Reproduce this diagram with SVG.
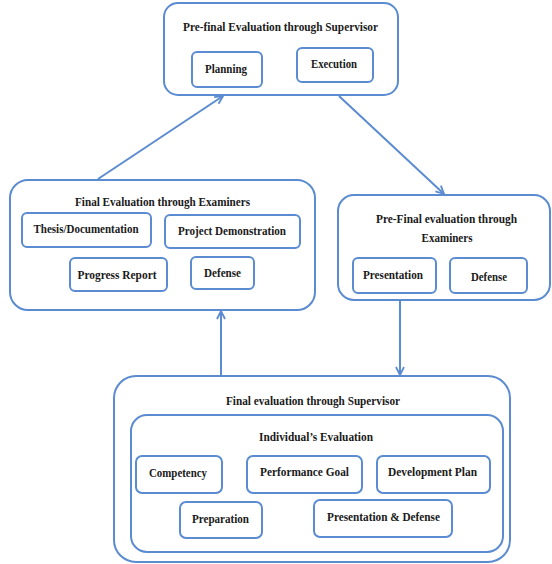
<svg xmlns="http://www.w3.org/2000/svg" width="552" height="564" viewBox="0 0 552 564">
<style>
.big{fill:#fff;stroke:#5b8bd0;stroke-width:2}
.sm{fill:#fff;stroke:#5b8bd0;stroke-width:2}
.t{font-family:"Liberation Serif","Times New Roman",serif;font-weight:bold;font-size:13.5px;fill:#1a1a1a;text-anchor:middle}
.c{stroke:#5b8bd0;stroke-width:2;fill:none}
</style>
<defs>
<marker id="ah" viewBox="0 0 10 10" refX="9" refY="5" markerWidth="10" markerHeight="10" markerUnits="userSpaceOnUse" orient="auto">
<path d="M1,1 L9,5 L1,9" fill="none" stroke="#5b8bd0" stroke-width="1.8"/>
</marker>
</defs>
<rect width="552" height="564" fill="#fff"/>
<g id="connectors">
<line class="c" x1="98" y1="179" x2="223" y2="96" marker-end="url(#ah)"/>
<line class="c" x1="339" y1="96" x2="444" y2="194" marker-end="url(#ah)"/>
<line class="c" x1="400" y1="301" x2="400" y2="375" marker-end="url(#ah)"/>
<line class="c" x1="221" y1="376" x2="221" y2="311" marker-end="url(#ah)"/>
</g>
<g id="prefinal-supervisor">
<rect class="big" x="164" y="3" width="234" height="92" rx="14"/>
<text class="t" x="280.5" y="31" textLength="195" lengthAdjust="spacingAndGlyphs">Pre-final Evaluation through Supervisor</text>
<g id="planning">
<rect class="sm" x="192" y="52" width="70" height="35" rx="5"/>
<text class="t" x="226" y="73" textLength="42" lengthAdjust="spacingAndGlyphs">Planning</text>
</g>
<g id="execution">
<rect class="sm" x="297" y="48" width="76" height="34" rx="5"/>
<text class="t" x="334" y="68" textLength="46" lengthAdjust="spacingAndGlyphs">Execution</text>
</g>
</g>
<g id="final-examiners">
<rect class="big" x="10" y="180" width="305" height="130" rx="18"/>
<text class="t" x="162.5" y="206" textLength="175" lengthAdjust="spacingAndGlyphs">Final Evaluation through Examiners</text>
<g id="thesis">
<rect class="sm" x="22" y="213" width="129" height="34" rx="5"/>
<text class="t" x="86" y="233" textLength="105" lengthAdjust="spacingAndGlyphs">Thesis/Documentation</text>
</g>
<g id="project-demo">
<rect class="sm" x="165" y="215" width="135" height="33" rx="5"/>
<text class="t" x="232" y="235" textLength="108" lengthAdjust="spacingAndGlyphs">Project Demonstration</text>
</g>
<g id="progress">
<rect class="sm" x="70" y="258" width="97" height="33" rx="5"/>
<text class="t" x="117" y="279" textLength="79" lengthAdjust="spacingAndGlyphs">Progress Report</text>
</g>
<g id="defense1">
<rect class="sm" x="191" y="257" width="63" height="32" rx="5"/>
<text class="t" x="222.5" y="277" textLength="37" lengthAdjust="spacingAndGlyphs">Defense</text>
</g>
</g>
<g id="prefinal-examiners">
<rect class="big" x="338" y="195" width="212" height="105" rx="16"/>
<text class="t" x="446.5" y="223" textLength="141" lengthAdjust="spacingAndGlyphs">Pre-Final evaluation through</text>
<text class="t" x="447" y="242" textLength="51" lengthAdjust="spacingAndGlyphs">Examiners</text>
<g id="presentation">
<rect class="sm" x="353" y="258" width="83" height="35" rx="5"/>
<text class="t" x="393" y="279" textLength="60" lengthAdjust="spacingAndGlyphs">Presentation</text>
</g>
<g id="defense2">
<rect class="sm" x="450" y="258" width="77" height="35" rx="5"/>
<text class="t" x="489" y="281" textLength="36" lengthAdjust="spacingAndGlyphs">Defense</text>
</g>
</g>
<g id="final-supervisor">
<rect class="big" x="114" y="376" width="396" height="186" rx="22"/>
<text class="t" x="313" y="405" textLength="174" lengthAdjust="spacingAndGlyphs">Final evaluation through Supervisor</text>
<g id="individual">
<rect class="big" x="131" y="415" width="372" height="137" rx="16"/>
<text class="t" x="316" y="441" textLength="114" lengthAdjust="spacingAndGlyphs">Individual’s Evaluation</text>
<g id="competency">
<rect class="sm" x="136" y="456" width="86" height="37" rx="6"/>
<text class="t" x="178" y="477" textLength="58" lengthAdjust="spacingAndGlyphs">Competency</text>
</g>
<g id="performance">
<rect class="sm" x="247" y="456" width="115" height="37" rx="6"/>
<text class="t" x="304.5" y="476" textLength="89" lengthAdjust="spacingAndGlyphs">Performance Goal</text>
</g>
<g id="development">
<rect class="sm" x="377" y="456" width="113" height="37" rx="6"/>
<text class="t" x="432.5" y="476" textLength="89" lengthAdjust="spacingAndGlyphs">Development Plan</text>
</g>
<g id="preparation">
<rect class="sm" x="180" y="502" width="82" height="36" rx="6"/>
<text class="t" x="220.5" y="523" textLength="57" lengthAdjust="spacingAndGlyphs">Preparation</text>
</g>
<g id="pres-defense">
<rect class="sm" x="314" y="500" width="138" height="37" rx="6"/>
<text class="t" x="383.5" y="521" textLength="113" lengthAdjust="spacingAndGlyphs">Presentation &amp; Defense</text>
</g>
</g>
</g>
</svg>
